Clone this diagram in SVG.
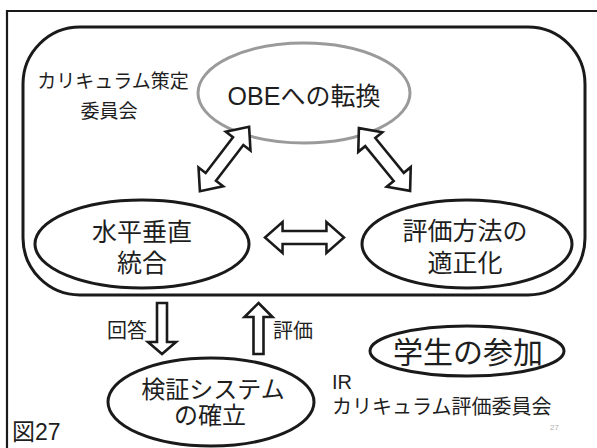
<svg xmlns="http://www.w3.org/2000/svg" width="597" height="448" viewBox="0 0 597 448">
  <style>
    .t { font-family: "Liberation Sans", "Noto Sans CJK JP", sans-serif; fill: #1e1e1e; }
    .node { fill: none; stroke: #1a1a1a; stroke-width: 3; }
    .arrow { fill: #ffffff; stroke: #1a1a1a; stroke-width: 2.6; stroke-linejoin: miter; }
  </style>
  <defs>
    <polygon id="dbl" points="-40.5,0 -22.5,-15.5 -22.5,-6.5 22.5,-6.5 22.5,-15.5 40.5,0 22.5,15.5 22.5,6.5 -22.5,6.5 -22.5,15.5"/>
  </defs>
  <rect width="597" height="448" fill="#ffffff"/>
  <path d="M7,460 V11 H600" fill="none" stroke="#1a1a1a" stroke-width="2.2"/>

  <g id="committee">
    <rect x="23" y="27" width="562" height="268" rx="57" ry="57" class="node"/>
    <text class="t" font-size="19" x="113" y="88" text-anchor="middle">カリキュラム策定</text>
    <text class="t" font-size="19" x="109" y="118" text-anchor="middle">委員会</text>
  </g>

  <g id="obe">
    <ellipse cx="304" cy="93" rx="106" ry="50" fill="none" stroke="#9a9a9a" stroke-width="3"/>
    <text class="t" font-size="25" x="304" y="105" text-anchor="middle">OBEへの転換</text>
  </g>

  <g id="integration">
    <ellipse cx="142" cy="244" rx="107" ry="44" class="node"/>
    <text class="t" font-size="25" x="142" y="241" text-anchor="middle">水平垂直</text>
    <text class="t" font-size="25" x="142" y="272" text-anchor="middle">統合</text>
  </g>

  <g id="evaluation">
    <ellipse cx="467" cy="244" rx="105" ry="44" class="node"/>
    <text class="t" font-size="25" x="465" y="240" text-anchor="middle">評価方法の</text>
    <text class="t" font-size="25" x="465" y="272" text-anchor="middle">適正化</text>
  </g>

  <g id="verification">
    <ellipse cx="211" cy="402" rx="103" ry="44" class="node"/>
    <text class="t" font-size="24" x="213" y="398" text-anchor="middle">検証システム</text>
    <text class="t" font-size="24" x="210" y="424" text-anchor="middle">の確立</text>
  </g>

  <g id="students">
    <ellipse cx="467" cy="351" rx="97" ry="25" class="node"/>
    <text class="t" font-size="30" x="468" y="363" text-anchor="middle">学生の参加</text>
  </g>

  <g id="ir-label">
    <text class="t" font-size="20" x="332" y="389">IR</text>
    <text class="t" font-size="20" x="332" y="414">カリキュラム評価委員会</text>
  </g>

  <g id="connectors">
    <use href="#dbl" class="arrow" transform="translate(224.5,159) rotate(-52.6)"/>
    <use href="#dbl" class="arrow" transform="translate(384.5,159.5) rotate(50.8)"/>
    <use href="#dbl" class="arrow" transform="translate(304.5,237.5) scale(0.975,1)"/>
    <polygon class="arrow" points="157,303 167,303 167,342 176,342 162,354 148,342 157,342"/>
    <polygon class="arrow" points="258.5,303 272.5,317 263.5,317 263.5,354 253.5,354 253.5,317 244.5,317"/>
    <text class="t" font-size="20" x="107" y="338">回答</text>
    <text class="t" font-size="20" x="273" y="338">評価</text>
  </g>

  <text class="t" font-size="23" x="12" y="440">図27</text>
  <text font-family="Liberation Sans, sans-serif" font-size="8" fill="#b0b0b0" x="550" y="430">27</text>
</svg>
